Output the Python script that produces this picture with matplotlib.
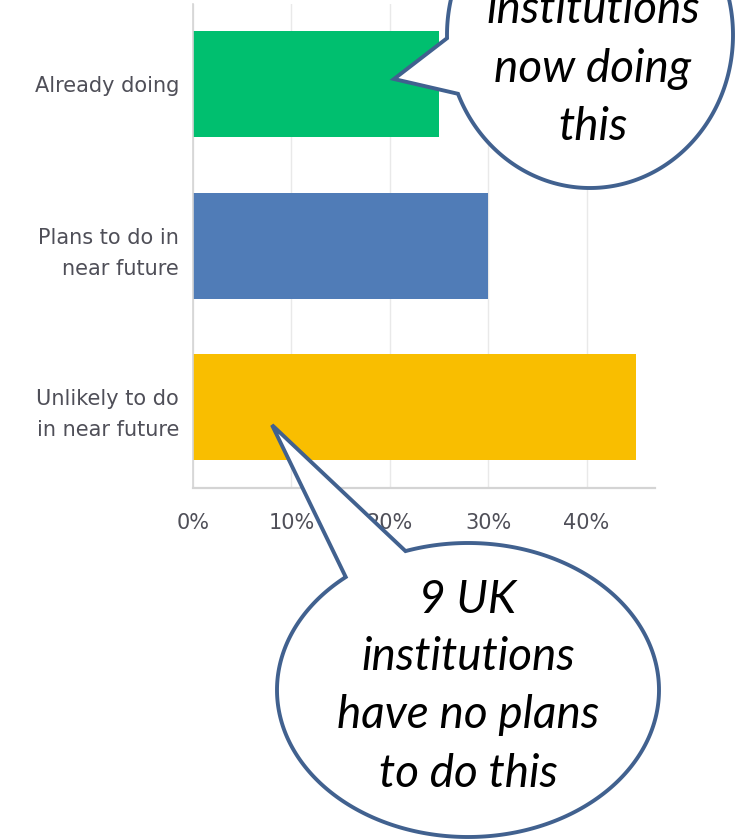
import numpy as np
import matplotlib
matplotlib.use("Agg")
import matplotlib.pyplot as plt
from matplotlib.patches import Polygon

categories = ["Already doing", "Plans to do in\nnear future", "Unlikely to do\nin near future"]
values = [25, 30, 45]
colors = ["#00BF6F", "#507CB7", "#F9BE00"]
xticks = [0, 10, 20, 30, 40]
xtick_labels = ["0%", "10%", "20%", "30%", "40%"]

top_callout = ["institutions", "now doing", "this"]
bottom_callout = ["9 UK", "institutions", "have no plans", "to do this"]

W, H = 739, 839
fig = plt.figure(figsize=(W / 100, H / 100), dpi=100)
fig.patch.set_facecolor("white")

ax = fig.add_axes([193 / W, (H - 488) / H, (655 - 193) / W, (488 - 3.5) / H])
y = np.arange(len(categories))
ax.barh(y, values, height=106 / 161, color=colors, zorder=2)
ax.set_ylim(len(categories) - 0.5, -0.5)
ax.set_xlim(0, 46.95)
ax.set_yticks(y)
ax.set_yticklabels(categories, fontsize=15, color="#4f4f58", family="DejaVu Sans", linespacing=1.7)
ax.set_xticks(xticks)
ax.set_xticklabels(xtick_labels, fontsize=15, color="#4f4f58", family="DejaVu Sans")
ax.tick_params(axis="both", length=0)
ax.tick_params(axis="x", pad=18)
ax.tick_params(axis="y", pad=10)
ax.grid(axis="x", color="#e9e9e9", linewidth=1, zorder=0)
ax.set_axisbelow(True)
for s in ["top", "right"]:
    ax.spines[s].set_visible(False)
ax.spines["left"].set_color("#d4d4d4")
ax.spines["left"].set_linewidth(1.2)
ax.spines["bottom"].set_color("#d4d4d4")
ax.spines["bottom"].set_linewidth(1.6)

# overlay for callouts (pixel coordinates, y down)
ov = fig.add_axes([0, 0, 1, 1], zorder=5)
ov.set_xlim(0, W)
ov.set_ylim(H, 0)
ov.axis("off")
ov.patch.set_alpha(0)

edge = "#41618F"

def bubble(cx, cy, rx, ry, t_start, t_end, tip):
    t = np.radians(np.linspace(t_start, t_end, 400))
    pts = np.column_stack([cx + rx * np.cos(t), cy + ry * np.sin(t)])
    pts = np.vstack([pts, tip])
    ov.add_patch(Polygon(pts, closed=True, facecolor="white", edgecolor=edge,
                         linewidth=2.8, joinstyle="miter"))

# top bubble
bubble(590, 35, 143, 153, 178.8, 157.4 + 360, (394, 79))
# bottom bubble
bubble(468, 690, 191, 147, 250.9, 230.2 + 360, (272, 425))

fk = dict(family="Lato", style="italic", fontsize=33, color="black", ha="center", va="baseline")
for txt, yb in zip(top_callout, [23, 82, 140]):
    ov.text(593, yb, txt, **fk)
for txt, yb in zip(bottom_callout, [613, 670, 728, 787]):
    ov.text(468, yb, txt, **fk)

fig.savefig("out.png", dpi=100, facecolor="white")
